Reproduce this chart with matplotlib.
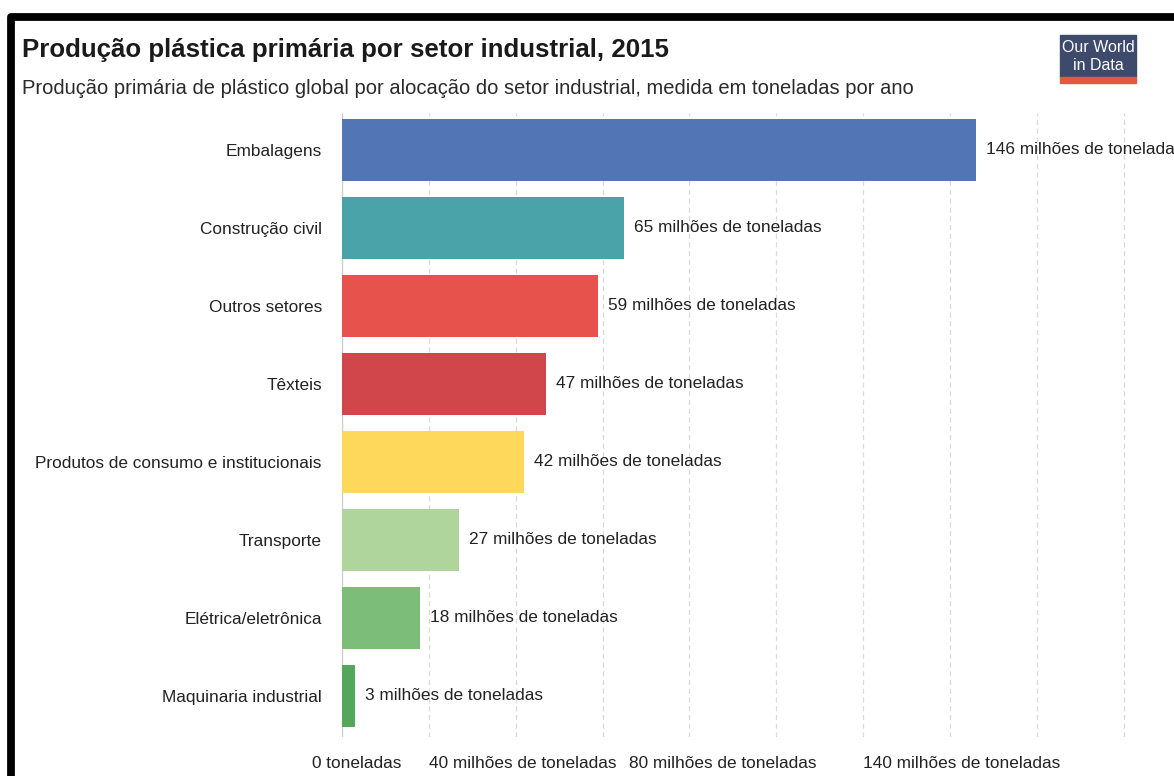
import matplotlib.pyplot as plt
import matplotlib.transforms as mtransforms
from matplotlib.lines import Line2D
from matplotlib.patches import Rectangle

plt.rcParams['font.family'] = ['Liberation Sans', 'DejaVu Sans']

sectors = ['Embalagens', 'Construção civil', 'Outros setores', 'Têxteis',
           'Produtos de consumo e institucionais', 'Transporte',
           'Elétrica/eletrônica', 'Maquinaria industrial']
production = [146, 65, 59, 47, 42, 27, 18, 3]  # milhões de toneladas
colors = ['#5175b5', '#4ba3aa', '#e8524d', '#d0464a',
          '#fdd85a', '#afd49c', '#7dbd7a', '#53a65a']

tick_values = [0, 40, 80, 140]
tick_labels = ['0 toneladas', '40 milhões de toneladas',
               '80 milhões de toneladas', '140 milhões de toneladas']

fig = plt.figure(figsize=(11.74, 7.76), dpi=100)
ax = fig.add_axes([0.2913, 0.0503, 0.7087, 0.8041])

y = range(len(sectors))
ax.barh(y, production, height=0.795, color=colors, zorder=2)
ax.set_ylim(len(sectors) - 0.474, -0.474)
ax.set_xlim(0, 191.6)

# value labels to the right of each bar
for yi, v in zip(y, production):
    ax.annotate(f'{v} milhões de toneladas', (v, yi), xytext=(7, 0),
                textcoords='offset points', va='center', ha='left',
                fontsize=12.4, color='#222222', annotation_clip=False)

ax.set_yticks(list(y))
ax.set_yticklabels(sectors, fontsize=12.4, color='#222222')
ax.tick_params(axis='y', length=0, pad=14.5)

ax.set_xticks(tick_values)
ax.set_xticklabels(tick_labels, fontsize=12.4, color='#222222')
ax.tick_params(axis='x', length=0, pad=14)
# nudge the axis labels sideways so the long ones don't collide
for lab, dx in zip(ax.get_xticklabels(), [15, 7, 33, 12]):
    lab.set_transform(lab.get_transform() +
                      mtransforms.ScaledTranslation(dx / 100, 0, fig.dpi_scale_trans))

for gx in range(20, 200, 20):
    ax.axvline(gx, color='#d9d9d9', lw=0.9, ls=(0, (4, 3)), zorder=1)
ax.axvline(0, color='#cccccc', lw=1, zorder=1)

for s in ax.spines.values():
    s.set_visible(False)

fig.text(22 / 1174, 1 - 50 / 776, 'Produção plástica primária por setor industrial, 2015',
         fontsize=18.6, fontweight='bold', color='#1a1a1a', va='center', ha='left')
fig.text(22 / 1174, 1 - 88 / 776,
         'Produção primária de plástico global por alocação do setor industrial, '
         'medida em toneladas por ano',
         fontsize=14.5, color='#2a2a2a', va='center', ha='left')

# logo box
W, H = 1174, 776
fig.patches.append(Rectangle((1060 / W, 1 - 77 / H), 76 / W, 42 / H,
                             transform=fig.transFigure, color='#3d4a6b'))
fig.patches.append(Rectangle((1060 / W, 1 - 83 / H), 76 / W, 6 / H,
                             transform=fig.transFigure, color='#e5573f'))
fig.text(1098 / W, 1 - 47 / H, 'Our World', fontsize=11.5, color='white',
         ha='center', va='center')
fig.text(1098 / W, 1 - 66 / H, 'in Data', fontsize=11.5, color='white',
         ha='center', va='center')

# black frame along top and left edge
frame = Line2D([11 / W, 11 / W, 1190 / W], [-0.05, 1 - 16.5 / H, 1 - 16.5 / H],
               transform=fig.transFigure, color='black', lw=5.6,
               solid_joinstyle='round')
fig.lines.append(frame)

fig.savefig('out.png', dpi=100)
